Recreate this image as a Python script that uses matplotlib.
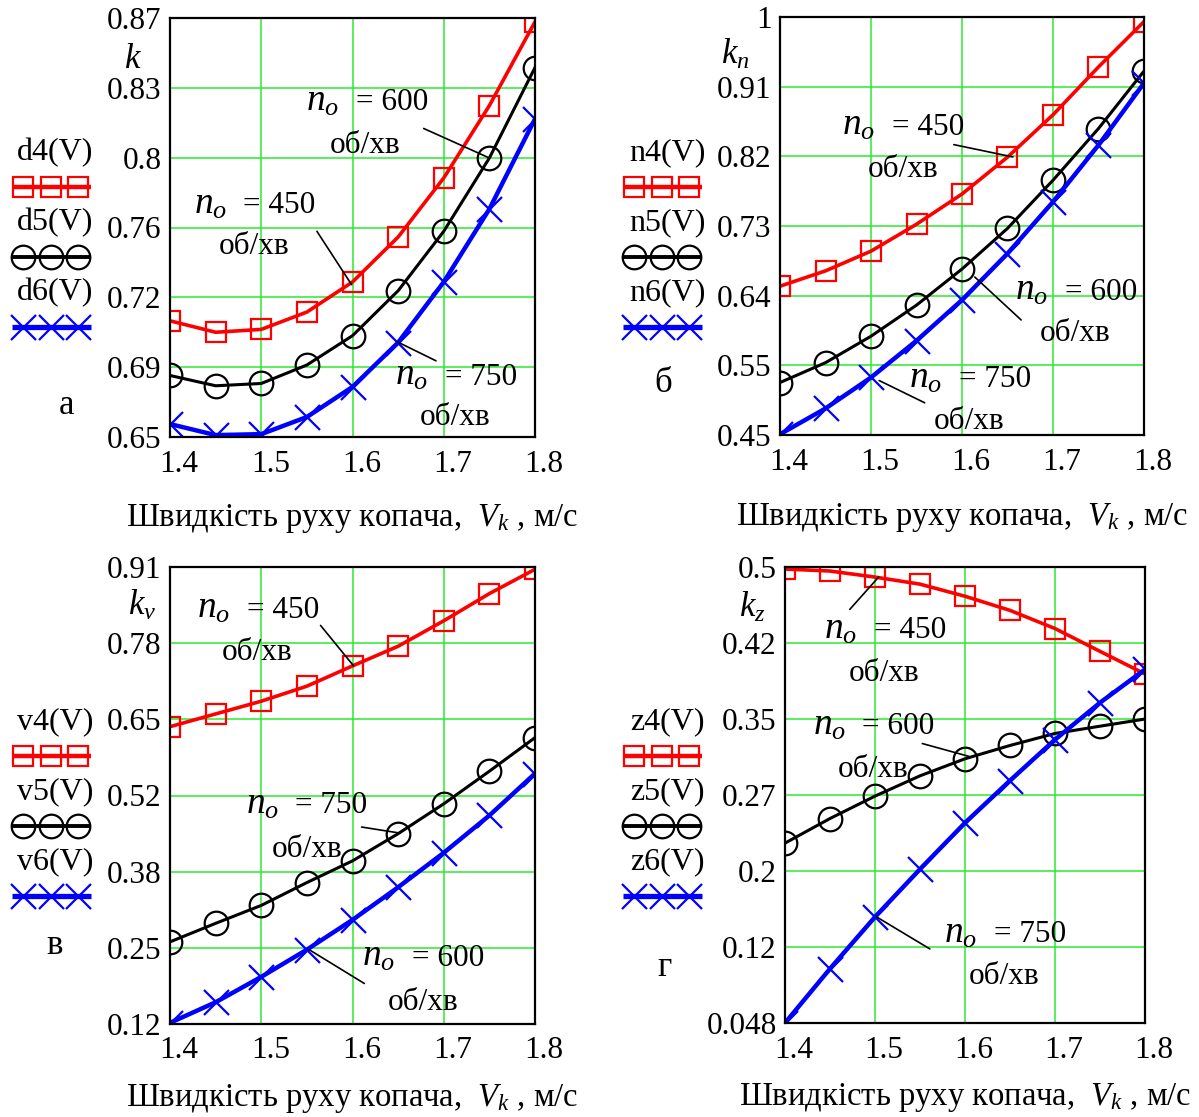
import numpy as np
import matplotlib
matplotlib.use("Agg")
import matplotlib.pyplot as plt
from matplotlib.transforms import ScaledTranslation

plt.rcParams["font.family"] = ["Liberation Serif", "DejaVu Serif"]
plt.rcParams["mathtext.fontset"] = "custom"
plt.rcParams["mathtext.rm"] = "Liberation Serif"
plt.rcParams["mathtext.it"] = "Liberation Serif:italic"

W, H = 1199, 1117
FS = 22.5

# ---- data -------------------------------------------------------------------
V = [1.4, 1.45, 1.5, 1.55, 1.6, 1.65, 1.7, 1.75, 1.8]

d4 = [0.711, 0.705, 0.7065, 0.7156, 0.7314, 0.755, 0.786, 0.824, 0.868]
d5 = [0.6823, 0.6769, 0.6781, 0.6878, 0.7032, 0.7268, 0.758, 0.7965, 0.844]
d6 = [0.6568, 0.651, 0.6515, 0.6605, 0.6763, 0.6996, 0.7314, 0.7697, 0.817]

n4 = [0.649, 0.669, 0.6947, 0.7298, 0.7692, 0.8173, 0.8725, 0.9349, 0.994]
n5 = [0.5234, 0.5493, 0.5838, 0.6243, 0.6714, 0.7244, 0.7872, 0.8546, 0.9295]
n6 = [0.456, 0.4896, 0.53, 0.578, 0.631, 0.6916, 0.759, 0.833, 0.9138]

v4 = [0.634, 0.656, 0.678, 0.704, 0.739, 0.773, 0.817, 0.864, 0.906]
v5 = [0.262, 0.294, 0.325, 0.3645, 0.402, 0.449, 0.5006, 0.557, 0.615]
v6 = [0.122, 0.1576, 0.2015, 0.2485, 0.30, 0.3564, 0.416, 0.4805, 0.553]

z4 = [0.498, 0.496, 0.490, 0.483, 0.471, 0.457, 0.439, 0.4164, 0.394]
z5 = [0.2263, 0.2507, 0.2729, 0.293, 0.3099, 0.3231, 0.335, 0.3422, 0.3493]
z6 = [0.048, 0.1018, 0.1531, 0.2005, 0.2464, 0.2883, 0.3289, 0.3655, 0.3985]

X_TICKS = [1.4, 1.5, 1.6, 1.7, 1.8]
K_LIM, K_LABELS = (0.65, 0.87), ["0.65", "0.69", "0.72", "0.76", "0.8", "0.83", "0.87"]
KN_LIM, KN_LABELS = (0.455, 1.0), ["0.45", "0.55", "0.64", "0.73", "0.82", "0.91", "1"]
KV_LIM, KV_LABELS = (0.12, 0.91), ["0.12", "0.25", "0.38", "0.52", "0.65", "0.78", "0.91"]
KZ_LIM, KZ_LABELS = (0.048, 0.5), ["0.048", "0.12", "0.2", "0.27", "0.35", "0.42", "0.5"]

# ---- styling ----------------------------------------------------------------
STYLES = [
    dict(color="#ff0000", lw=2.6, marker="s", ms=14, mfc="none", mec="#ff0000", mew=1.6),
    dict(color="black", lw=2.2, marker="o", ms=17, mfc="none", mec="black", mew=1.6),
    dict(color="#0000ff", lw=3.2, marker="x", ms=18, mec="#0000ff", mew=1.6),
]
GRID = "#2ee82e"

fig = plt.figure(figsize=(W / 100, H / 100), dpi=100)


def rect(l, t, r, b):
    return [l / W, 1 - b / H, (r - l) / W, (b - t) / H]


panels = [
    # frame px, series, names, ylim, labels, ylabel (px), letter (px), legend, xlabel pad
    dict(frame=(170, 18, 535, 437), series=(d4, d5, d6), names=("d4(V)", "d5(V)", "d6(V)"),
         ylim=K_LIM, labels=K_LABELS, ylabel=(r"$k$", 133, 60), letter=("а", 67, 406),
         leg=(55, 12, 153), xpad=17,
         notes=[("600", (1.617, 0.827), (1.614, 0.803), (1.678, 0.812), (1.75, 0.7965)),
                ("450", (1.494, 0.773), (1.492, 0.750), (1.561, 0.758), (1.599, 0.730)),
                ("750", (1.715, 0.683), (1.712, 0.660), (1.649, 0.700), (1.6915, 0.690))]),
    dict(frame=(780, 17, 1144, 435), series=(n4, n5, n6), names=("n4(V)", "n5(V)", "n6(V)"),
         ylim=KN_LIM, labels=KN_LABELS, ylabel=(r"$k_n$", 735, 55), letter=("б", 663, 383),
         leg=(667, 623, 153), xpad=18,
         notes=[("450", (1.537, 0.860), (1.535, 0.801), (1.591, 0.8336), (1.656, 0.8175)),
                ("600", (1.727, 0.645), (1.724, 0.587), (1.614, 0.661), (1.665, 0.605)),
                ("750", (1.610, 0.531), (1.608, 0.472), (1.509, 0.526), (1.559, 0.497))]),
    dict(frame=(170, 567, 535, 1024), series=(v4, v5, v6), names=("v4(V)", "v5(V)", "v6(V)"),
         ylim=KV_LIM, labels=KV_LABELS, ylabel=(r"$k_v$", 142, 606), letter=("в", 55, 946),
         leg=(55, 12, 722), xpad=12,
         notes=[("450", (1.498, 0.840), (1.495, 0.762), (1.565, 0.809), (1.601, 0.7395)),
                ("750", (1.551, 0.5025), (1.550, 0.421), (1.610, 0.4605), (1.652, 0.450)),
                ("600", (1.679, 0.2384), (1.677, 0.157), (1.553, 0.248), (1.613, 0.190))]),
    dict(frame=(785, 567, 1145, 1023), series=(z4, z5, z6), names=("z4(V)", "z5(V)", "z6(V)"),
         ylim=KZ_LIM, labels=KZ_LABELS, ylabel=(r"$k_z$", 752, 608), letter=("г", 665, 968),
         leg=(667, 623, 722), xpad=12,
         notes=[("450", (1.513, 0.4395), (1.510, 0.3943), (1.472, 0.458), (1.504, 0.490)),
                ("600", (1.500, 0.3446), (1.498, 0.2988), (1.5526, 0.325), (1.6047, 0.3122)),
                ("750", (1.646, 0.1384), (1.644, 0.0936), (1.502, 0.153), (1.561, 0.1214))]),
]

overlay = fig.add_axes([0, 0, 1, 1])
overlay.set_xlim(0, W)
overlay.set_ylim(H, 0)
overlay.axis("off")

shift = ScaledTranslation(9 / 100, 0, fig.dpi_scale_trans)

for p in panels:
    ax = fig.add_axes(rect(*p["frame"]))
    for ys, st in zip(p["series"], STYLES):
        ax.plot(V, ys, **st)
    lo, hi = p["ylim"]
    ax.set_xlim(1.4, 1.8)
    ax.set_ylim(lo, hi)
    ax.set_xticks(X_TICKS, [f"{t:g}" for t in X_TICKS])
    ax.set_yticks(np.linspace(lo, hi, 7), p["labels"])
    ax.tick_params(length=0, labelsize=FS, pad=6)
    ax.tick_params(axis="x", pad=9)
    for lab in ax.get_xticklabels():
        lab.set_transform(lab.get_transform() + shift)
    ax.grid(True, color=GRID, lw=1.1)
    ax.set_axisbelow(True)
    for s in ax.spines.values():
        s.set_linewidth(1.6)
    ax.set_xlabel(r"Швидкість руху копача,  $V_k$ , м/с", fontsize=FS + 1,
                  labelpad=p["xpad"])

    # "n_o = 600" over "об/хв", with a thin leader line to the curve
    for num, txy, uxy, a, b in p["notes"]:
        ax.annotate(r"$n_o$", xy=txy, xytext=(-21, -7.5), textcoords="offset points",
                    ha="right", va="baseline", fontsize=27)
        ax.annotate("= " + num, xy=txy, xytext=(-9, -7.5), textcoords="offset points",
                    ha="left", va="baseline", fontsize=FS)
        ax.text(*uxy, "об/хв", ha="center", va="center", fontsize=FS)
        ax.annotate("", xy=b, xytext=a,
                    arrowprops=dict(arrowstyle="-", color="black", lw=1.2,
                                    shrinkA=0, shrinkB=0))

    lab, lx, ly = p["ylabel"]
    overlay.text(lx, ly, lab, ha="center", va="center", fontsize=25)
    let, tx, ty = p["letter"]
    overlay.text(tx, ty, let, ha="center", va="center", fontsize=25)

    # hand-drawn legend: name above a short sample line with three markers
    cx, x0, y0 = p["leg"]
    for i, (name, st) in enumerate(zip(p["names"], STYLES)):
        ty = y0 + i * 70
        overlay.text(cx, ty, name, ha="center", va="center", fontsize=FS + 0.5)
        overlay.plot([x0, x0 + 79], [ty + 34, ty + 34], color=st["color"],
                     lw=st["lw"] + 0.6, solid_capstyle="butt")
        overlay.plot([x0 + 11, x0 + 38.5, x0 + 66], [ty + 34] * 3, ls="none",
                     **{k: v for k, v in st.items() if k not in ("color", "lw")})

fig.savefig("out.png", dpi=100)
